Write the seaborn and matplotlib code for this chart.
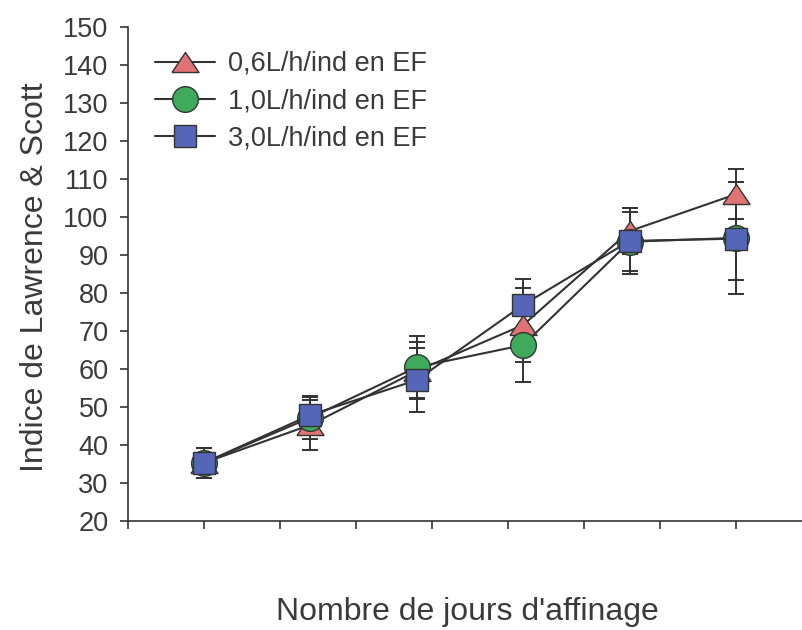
import matplotlib
matplotlib.use("Agg")
import matplotlib.pyplot as plt
import seaborn as sns
import pandas as pd

days = [0, 7, 14, 21, 28, 35]
labels = ["0,6L/h/ind en EF", "1,0L/h/ind en EF", "3,0L/h/ind en EF"]
v06 = [35.3, 45.3, 59.5, 71.6, 96.3, 106.0]
e06 = [4.0, 6.6, 7.5, 9.8, 6.1, 6.5]
v10 = [35.3, 47.2, 60.5, 66.3, 93.5, 94.5]
e10 = [4.0, 5.5, 8.2, 9.6, 7.8, 14.7]
v30 = [35.3, 47.9, 57.1, 76.9, 93.7, 94.3]
e30 = [4.0, 5.0, 8.4, 6.7, 8.8, 11.0]
yticks = [20, 30, 40, 50, 60, 70, 80, 90, 100, 110, 120, 130, 140, 150]
xticks = [-5, 0, 5, 10, 15, 20, 25, 30, 35]

sns.set_theme(style="white")
plt.rcParams["font.family"] = ["Liberation Sans", "DejaVu Sans"]
TXT = "#3a3a3a"
LINE = "#333333"

fig = plt.figure(figsize=(8.03, 6.30), dpi=100)
ax = fig.add_axes([128/803, 1-521/630, 1-128/803, (521-27)/630])

tri = [(-1, -0.74), (1, -0.74), (0, 0.74), (-1, -0.74)]
series = [
    (v06, e06, tri, "#e07474", 19.5),
    (v10, e10, "o", "#3faa5c", 18.5),
    (v30, e30, "s", "#5566b9", 16.5),
]
for (vals, errs, mk, fc, ms), lab in zip(series, labels):
    df = pd.DataFrame({"x": days, "y": vals})
    ax.errorbar(days, vals, yerr=errs, fmt="none", ecolor=LINE, elinewidth=1.4,
                capsize=5.5, capthick=1.4, zorder=2)
    sns.lineplot(data=df, x="x", y="y", ax=ax, color=LINE, linewidth=1.5,
                 marker=mk, markersize=ms, markerfacecolor=fc,
                 markeredgecolor=LINE, markeredgewidth=1.0, label=lab, zorder=3)

ax.set_xlim(-5, 39.4)
ax.set_ylim(20, 150)
ax.set_xticks(xticks)
ax.set_xticklabels([])
ax.set_yticks(yticks)
ax.set_yticklabels([str(v) for v in yticks], fontsize=19.5, color=TXT)
ax.tick_params(axis="both", direction="out", length=6, width=1.2, color=LINE,
               left=True, bottom=True, pad=5)
ax.tick_params(axis="y", pad=8)
for s in ["top", "right"]:
    ax.spines[s].set_visible(False)
for s in ["left", "bottom"]:
    ax.spines[s].set_color(LINE)
    ax.spines[s].set_linewidth(1.2)

ax.set_xlabel("")
ax.set_ylabel("")
fig.text(35/803, 1-277/630, "Indice de Lawrence & Scott", rotation=90,
         ha="center", va="center", fontsize=23, color=TXT)
fig.text(467/803, 1-612/630, "Nombre de jours d'affinage", ha="center",
         va="center", fontsize=23, color=TXT)

leg = ax.legend(loc="upper left", bbox_to_anchor=(155/803, 1-51/630),
                bbox_transform=fig.transFigure, frameon=False, fontsize=19.5,
                handlelength=2.2, handletextpad=0.5, labelspacing=0.42,
                borderpad=0, borderaxespad=0)
for t in leg.get_texts():
    t.set_color(TXT)

fig.savefig("out.png", dpi=100)
